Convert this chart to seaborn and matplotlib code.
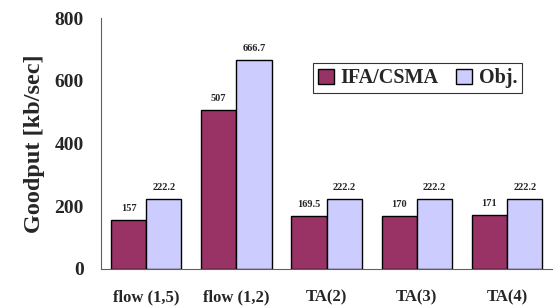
import matplotlib
matplotlib.use("Agg")
import matplotlib.pyplot as plt
import seaborn as sns
import pandas as pd
from matplotlib.ticker import FixedLocator

categories = ["flow (1,5)", "flow (1,2)", "TA(2)", "TA(3)", "TA(4)"]
ifa_values = [157, 507, 169.5, 170, 171]
obj_values = [222.2, 666.7, 222.2, 222.2, 222.2]
ifa_labels = ["157", "507", "169.5", "170", "171"]
obj_labels = ["222.2", "666.7", "222.2", "222.2", "222.2"]
series = ["IFA/CSMA", "Obj."]
colors = ["#993366", "#CCCCFF"]

df = pd.DataFrame({
    "cat": categories * 2,
    "val": ifa_values + obj_values,
    "series": [series[0]] * 5 + [series[1]] * 5,
})

sns.set_style("white")
plt.rcParams["font.family"] = ["Liberation Serif", "DejaVu Serif"]
plt.rcParams["font.weight"] = "bold"

fig = plt.figure(figsize=(5.53, 3.07), dpi=100)
ax = fig.add_axes([0.1826, 0.124, 0.816, 0.817])

sns.barplot(data=df, x="cat", y="val", hue="series", palette=colors,
            width=0.78, edgecolor="black", linewidth=1.0, ax=ax, saturation=1)

ax.set_ylim(0, 800)
ax.set_xlim(-0.5, 4.5)
ax.set_yticks([0, 200, 400, 600, 800])
ax.set_yticklabels(["0", "200", "400", "600", "800"], fontsize=14, fontweight="bold")
ax.set_xticks(range(5))
ax.set_xticklabels(categories, fontsize=12, fontweight="bold")
ax.tick_params(axis="x", which="major", length=0, pad=15)
ax.xaxis.set_minor_locator(FixedLocator([-0.5 + i for i in range(6)]))
ax.tick_params(axis="x", which="minor", length=4, color="#606060", width=0.8, direction="out")
ax.tick_params(axis="y", length=4.3, color="#606060", width=0.8, direction="out", pad=8)
ax.set_xlabel("")
ax.set_ylabel("Goodput [kb/sec]", fontsize=17.5, fontweight="bold", labelpad=7)

for side in ["top", "right"]:
    ax.spines[side].set_visible(False)
for side in ["left", "bottom"]:
    ax.spines[side].set_color("#606060")
    ax.spines[side].set_linewidth(0.8)

# value labels
conts = ax.containers
for cont, labs in zip(conts, [ifa_labels, obj_labels]):
    for bar, lab in zip(cont, labs):
        ax.annotate(lab, (bar.get_x() + bar.get_width() / 2, bar.get_height()),
                    xytext=(0, 5), textcoords="offset points", ha="center", va="bottom",
                    fontsize=7.5, fontweight="bold")

leg = ax.legend(ncol=2, loc="upper left", bbox_to_anchor=(0.47, 0.82),
                borderaxespad=0, frameon=True, fancybox=False, handlelength=0.8,
                handleheight=0.8, handletextpad=0.3, columnspacing=0.9,
                borderpad=0.25, prop={"weight": "bold", "size": 14.5})
leg.get_frame().set_edgecolor("black")
leg.get_frame().set_linewidth(0.8)

fig.savefig("out.png", dpi=100)
